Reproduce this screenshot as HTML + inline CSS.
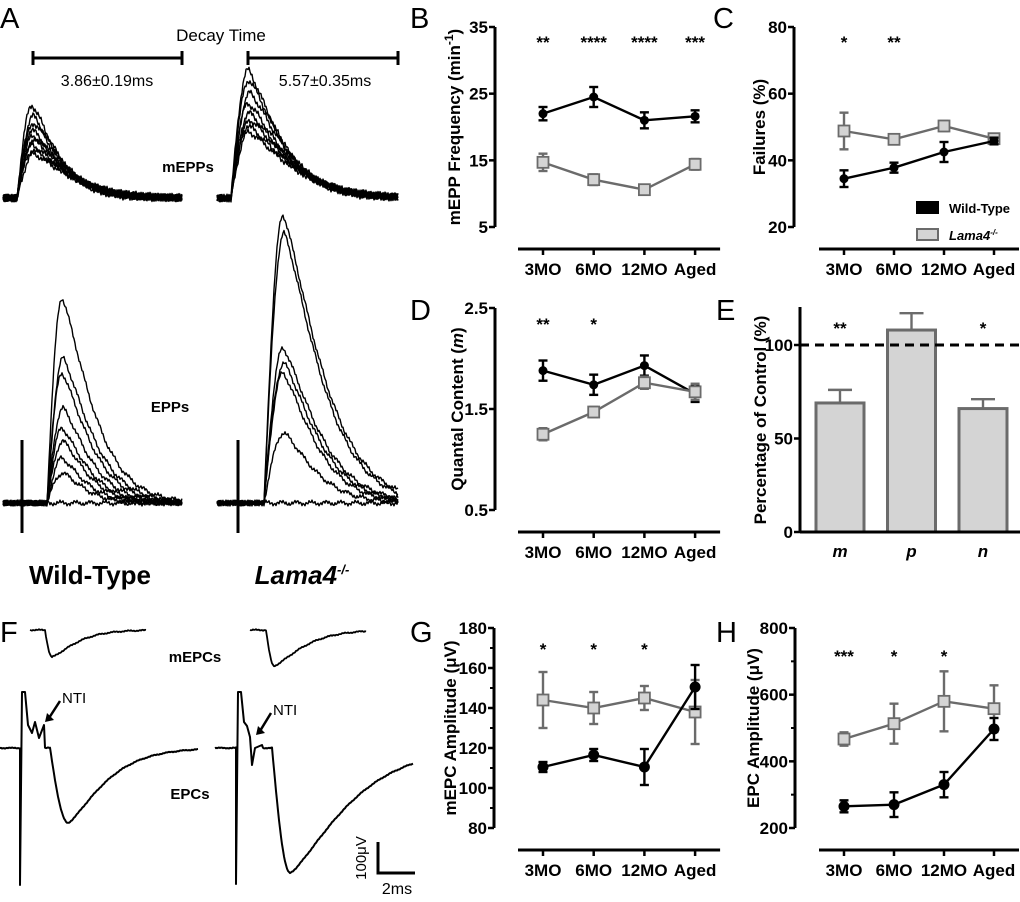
<!DOCTYPE html>
<html><head><meta charset="utf-8">
<style>
html,body{margin:0;padding:0;background:#fff;}
svg{display:block;font-family:"Liberation Sans",sans-serif;}
.tk{font-weight:bold;font-size:17px;}
.pl{font-size:29px;}
</style></head>
<body>
<svg id="fig" width="1020" height="902" viewBox="0 0 1020 902" xmlns="http://www.w3.org/2000/svg">
<g id="left"></g>
<g id="charts"></g>
</svg>
<script>
// ---- chart data ----
const ages = ["3MO","6MO","12MO","Aged"];
const bWT = [22, 24.5, 21, 21.6];
const bWTerr = [1, 1.5, 1.2, 0.9];
const bKO = [14.7, 12.1, 10.6, 14.4];
const bKOerr = [1.3, 0.8, 0.3, 0.8];
const bStars = ["**","****","****","***"];
const cWT = [34.5, 37.8, 42.5, 45.8];
const cWTerr = [2.5, 1.5, 3, 1];
const cKO = [48.8, 46.3, 50.3, 46.5];
const cKOerr = [5.5, 1.3, 1.5, 0.8];
const cStars = ["*","**","",""];
const dWT = [1.88, 1.74, 1.93, 1.65];
const dWTerr = [0.1, 0.1, 0.1, 0.08];
const dKO = [1.25, 1.47, 1.76, 1.67];
const dKOerr = [0.06, 0.05, 0.06, 0.08];
const dStars = ["**","*","",""];
const eCats = ["m","p","n"];
const eVals = [69, 108, 66];
const eErr = [7, 9, 5];
const eStars = ["**","","*"];
const gWT = [110.5, 116.5, 110.5, 150.5];
const gWTerr = [2.5, 3, 9, 11];
const gKO = [144, 140, 145, 138];
const gKOerr = [14, 8, 6, 16];
const gStars = ["*","*","*",""];
const hWT = [265, 270, 330, 497];
const hWTerr = [18, 37, 38, 33];
const hKO = [467, 513, 580, 558];
const hKOerr = [20, 60, 90, 70];
const hStars = ["***","*","*",""];
const bTicks = [5,15,25,35];
const cTicks = [20,40,60,80];
const dTicks = [0.5,1.5,2.5];
const eTicks = [0,50,100];
const gTicks = [80,100,120,140,160,180];
const hTicks = [200,400,600,800];

const NS="http://www.w3.org/2000/svg";
function mk(tag, attrs, parent, text){
  const e=document.createElementNS(NS,tag);
  for(const k in attrs) e.setAttribute(k,attrs[k]);
  if(text!==undefined) e.textContent=text;
  parent.appendChild(e); return e;
}
const charts=document.getElementById('charts');
const left=document.getElementById('left');

function linePanel(o){
  const g=mk('g',{},charts);
  
  
  const y=v=>o.y0+(v-o.vmin)/(o.vmax-o.vmin)*(o.y1-o.y0);
  const x=i=>o.x0+i*o.dx;
  const ya=mk('line',{x1:o.ax,x2:o.ax,y1:y(o.vmax),y2:y(o.vmin),stroke:'#000','stroke-width':3},g);
  
  
  o.ticks.forEach((t,i)=>{
    mk('line',{x1:o.ax-6,x2:o.ax,y1:y(t),y2:y(t),stroke:'#000','stroke-width':2.5},g);
    if(o.minor && i<o.ticks.length-1){const m=(t+o.ticks[i+1])/2;mk('line',{x1:o.ax-4,x2:o.ax,y1:y(m),y2:y(m),stroke:'#000','stroke-width':2},g);}
    const tl=mk('text',{x:o.ax-7,y:y(t)+6,'text-anchor':'end',class:'tk'},g,o.fmt?o.fmt(t):t);
    
    
  });
  const xa=mk('line',{x1:o.x0-25,x2:Math.min(1020,o.x0+3*o.dx+25),y1:o.xay,y2:o.xay,stroke:'#000','stroke-width':3},g);
  
  
  ages.forEach((a,i)=>{
    mk('line',{x1:x(i),x2:x(i),y1:o.xay,y2:o.xay+6,stroke:'#000','stroke-width':2.5},g);
    const xl=mk('text',{x:x(i),y:o.xay+26,'text-anchor':'middle',class:'tk'},g,a);
    
    
    if(o.stars[i]){const s=mk('text',{x:x(i),y:o.stary,'text-anchor':'middle',class:'tk','font-size':'19px'},g,o.stars[i]);
      
      }
  });
  const yt=mk('text',{transform:`translate(${o.ytx},${(y(o.vmax)+y(o.vmin))/2}) rotate(-90)`,'text-anchor':'middle',class:'tk','font-size':'19px'},g);
  
  
  yt.innerHTML=o.ytitle;
  const series=[{v:o.ko,e:o.koe,c:'#6b6b6b',sq:true,n:'lama4-series'},{v:o.wt,e:o.wte,c:'#000',sq:false,n:'wild-type-series'}];
  if(o.wtFirst) series.reverse();
  series.forEach(s=>{
    const sg=mk('g',{},g);
    
    
    mk('polyline',{points:s.v.map((v,i)=>x(i)+','+y(v)).join(' '),fill:'none',stroke:s.c,'stroke-width':2.4},sg);
    s.v.forEach((v,i)=>{
      const hi=y(v+s.e[i]),lo=y(v-s.e[i]);
      mk('line',{x1:x(i),x2:x(i),y1:hi,y2:lo,stroke:s.c,'stroke-width':2.4},sg);
      mk('line',{x1:x(i)-4.5,x2:x(i)+4.5,y1:hi,y2:hi,stroke:s.c,'stroke-width':2.4},sg);
      mk('line',{x1:x(i)-4.5,x2:x(i)+4.5,y1:lo,y2:lo,stroke:s.c,'stroke-width':2.4},sg);
      let p;
      if(s.sq) p=mk('rect',{x:x(i)-5.5,y:y(v)-5.5,width:11,height:11,fill:'#d4d4d4',stroke:s.c,'stroke-width':1.8},sg);
      else p=mk('circle',{cx:x(i),cy:y(v),r:o.dot||4.5,fill:'#000'},sg);
      
      
    });
  });
  return g;
}
linePanel({name:'panel-b-mepp-frequency',ax:495,vmin:5,vmax:35,y0:227,y1:27,x0:543,dx:50.7,xay:249,ticks:bTicks,stars:bStars,stary:48,ytx:460,ytitle:'mEPP Frequency (min<tspan dy="-7" font-size="12">-1</tspan><tspan dy="7">)</tspan>',wt:bWT,wte:bWTerr,ko:bKO,koe:bKOerr});
linePanel({name:'panel-c-failures',ax:794,vmin:20,vmax:80,y0:227,y1:27,x0:844,dx:50,xay:249,ticks:cTicks,stars:cStars,stary:48,ytx:765,ytitle:'Failures (%)',wt:cWT,wte:cWTerr,ko:cKO,koe:cKOerr});
linePanel({name:'panel-d-quantal-content',ax:495,vmin:0.5,vmax:2.5,y0:510,y1:308,x0:543,dx:50.7,xay:532,ticks:dTicks,stars:dStars,stary:330,ytx:463,fmt:t=>t.toFixed(1),ytitle:'Quantal Content (<tspan font-style="italic">m</tspan>)',wt:dWT,wte:dWTerr,ko:dKO,koe:dKOerr,wtFirst:true});
linePanel({name:'panel-g-mepc-amplitude',ax:494,vmin:80,vmax:180,y0:828,y1:628,x0:543,dx:50.7,xay:850,ticks:gTicks,minor:true,stars:gStars,stary:655,ytx:456,ytitle:'mEPC Amplitude (μV)',wt:gWT,wte:gWTerr,ko:gKO,koe:gKOerr,dot:5.5});
linePanel({name:'panel-h-epc-amplitude',ax:795,vmin:200,vmax:800,y0:828,y1:628,x0:844,dx:50,xay:850,ticks:hTicks,minor:true,stars:hStars,stary:662,ytx:759,ytitle:'EPC Amplitude (μV)',wt:hWT,wte:hWTerr,ko:hKO,koe:hKOerr,dot:5.5});

[['Wild-Type','#000','#000',208,false],['Lama4','#6b6b6b','#d4d4d4',235,true]].forEach(l=>{
  const lg=mk('g',{},charts);
  
  
  mk('rect',{x:917,y:l[3]-6,width:21,height:11,fill:l[2],stroke:l[1],'stroke-width':2},lg);
  const t=mk('text',{x:949,y:l[3]+5,'font-size':'13px','font-weight':'bold','font-style':l[4]?'italic':'normal'},lg,l[0]);
  if(l[4]) t.innerHTML='Lama4<tspan dy="-5" font-size="8">-/-</tspan>';
});

(function(){
  const g=mk('g',{},charts);
  
  
  const ax=800, y=v=>532-v*(532-345)/100, xs=i=>840+i*71.5;
  eCats.forEach((c,i)=>{
    const top=y(eVals[i]+eErr[i]);
    mk('line',{x1:xs(i),x2:xs(i),y1:top,y2:y(eVals[i]),stroke:'#6b6b6b','stroke-width':2.4},g);
    mk('line',{x1:xs(i)-12,x2:xs(i)+12,y1:top,y2:top,stroke:'#6b6b6b','stroke-width':2.4},g);
    const b=mk('rect',{x:xs(i)-24,y:y(eVals[i]),width:48,height:532-y(eVals[i]),fill:'#d4d4d4',stroke:'#6b6b6b','stroke-width':3},g);
    
    
    const xl=mk('text',{x:xs(i),y:557,'text-anchor':'middle',class:'tk','font-style':'italic'},g,c);
    
    
    if(eStars[i]) mk('text',{x:xs(i),y:334,'text-anchor':'middle',class:'tk','font-size':'19px'},g,eStars[i]);
  });
  const d=mk('line',{x1:ax,x2:1020,y1:y(100),y2:y(100),stroke:'#000','stroke-width':3,'stroke-dasharray':'9,6'},g);
  
  
  mk('line',{x1:ax,x2:ax,y1:307,y2:532,stroke:'#000','stroke-width':3},g);
  mk('line',{x1:ax,x2:1020,y1:532,y2:532,stroke:'#000','stroke-width':3},g);
  eTicks.forEach(t=>{
    mk('line',{x1:ax-6,x2:ax,y1:y(t),y2:y(t),stroke:'#000','stroke-width':2.5},g);
    mk('text',{x:ax-7,y:y(t)+6,'text-anchor':'end',class:'tk'},g,t);
  });
  const yt=mk('text',{transform:'translate(766,420) rotate(-90)','text-anchor':'middle',class:'tk','font-size':'19px'},g,'Percentage of Control (%)');
  
  
})();

[['A',0,28],['B',410,28],['C',713,28],['D',410,320],['E',716,320],['F',0,642],['G',410,642],['H',716,642]].forEach(p=>{
  const t=mk('text',{x:p[1],y:p[2],class:'pl'},charts,p[0]);
  
  
});

// ---- illustrative traces ----
function noise(i,k){return Math.sin(i*12.9898+k*78.233)*0.5+Math.sin(i*4.1+k*2.3)*0.5;}
function wave(x0,x1,base,onset,peakX,amp,tau,k,nz,sign){
  let d='';
  for(let x=x0;x<=x1;x+=1){
    let v=0;
    if(x>onset){
      if(x<=peakX){const f=(x-onset)/(peakX-onset); v=amp*Math.sin(f*Math.PI/2);}
      else {const t=x-peakX; v=amp*Math.exp(-Math.pow(t/tau,1.3));}
    }
    const yy=base-sign*v+nz*noise(x,k);
    d+=(x===x0?'M':'L')+x+','+yy.toFixed(1);
  }
  return d;
}
function trace(d,name,w){
  const p=mk('path',{d:d,fill:'none',stroke:'#000','stroke-width':w||1.4,'stroke-linejoin':'round'},left);
  
  
}
[93,82,75,68,62,58,53,48,44].forEach((a,k)=>trace(wave(3,182,198,17,32+(k%3),a,32+k*2,k,4,1),'wt-mepp-trace'));
[128,118,105,95,85,78,72,66].forEach((a,k)=>trace(wave(217,398,198,231,248+(k%3),a,40+k*2,k+20,4,1),'lama4-mepp-trace'));
[205,145,130,95,75,62,45,30,0].forEach((a,k)=>trace(wave(3,182,503,47,62+(k%2),a,38-k*1.5,k+40,3,1),'wt-epp-trace'));
[288,270,155,140,130,70,0].forEach((a,k)=>trace(wave(217,398,503,264,283+(k%2),a,48-k*2,k+60,3,1),'lama4-epp-trace'));
trace('M22,440 L22,533','wt-stimulus-artifact',3);
trace('M238,440 L238,533','lama4-stimulus-artifact',3);
[[33,182],[248,398]].forEach(b=>{
  const g=mk('g',{},left);
  
  
  mk('line',{x1:b[0],x2:b[1],y1:58,y2:58,stroke:'#000','stroke-width':3},g);
  mk('line',{x1:b[0],x2:b[0],y1:51,y2:65,stroke:'#000','stroke-width':3},g);
  mk('line',{x1:b[1],x2:b[1],y1:51,y2:65,stroke:'#000','stroke-width':3},g);
});
[['Decay Time',221,41,17],['3.86±0.19ms',107,86,16],['5.57±0.35ms',325,86,16]].forEach(t=>{
  const e=mk('text',{x:t[1],y:t[2],'text-anchor':'middle','font-size':t[3]+'px'},left,t[0]);
  
  
});
[['mEPPs',188,172],['EPPs',170,412],['mEPCs',195,662],['EPCs',190,799]].forEach(t=>{
  const e=mk('text',{x:t[1],y:t[2],'text-anchor':'middle','font-size':'15px','font-weight':'bold'},left,t[0]);
  
  
});
const wtT=mk('text',{x:90,y:584,'text-anchor':'middle','font-size':'26px','font-weight':'bold'},left,'Wild-Type');


const koT=mk('text',{x:302,y:584,'text-anchor':'middle','font-size':'26px','font-weight':'bold','font-style':'italic'},left);


koT.innerHTML='Lama4<tspan dy="-10" font-size="13">-/-</tspan>';
trace(wave(30,146,630,45,52,27,30,80,0.8,-1),'wt-mepc-trace',1.8);
trace(wave(250,366,630,266,274,36,36,81,0.8,-1),'lama4-mepc-trace',1.8);
trace(wave(0,20,748,200,201,0,1,82,0.6,-1)+' L20,885 L22,692 L25,692 L28,725 L32,733 L35,722 L39,738 L44,725 '+wave(45,198,748,50,68,75,45,83,0.6,-1).replace('M','L'),'wt-epc-trace',2);
trace(wave(215,236,748,500,501,0,1,84,0.6,-1)+' L236,884 L238,692 L241,692 L244,722 L247,726 L250,737 L252,765 L255,748 L262,745 '+wave(263,413,748,272,290,125,70,85,0.6,-1).replace('M','L'),'lama4-epc-trace',2);
[['NTI',62,703,45,722],['NTI',273,715,256,735]].forEach(a=>{
  const g=mk('g',{},left);
  
  
  mk('text',{x:a[1],y:a[2],'font-size':'15px'},g,a[0]);
  mk('line',{x1:a[1]-2,x2:a[3]+4,y1:a[2]-2,y2:a[4]-4,stroke:'#000','stroke-width':2.5},g);
  mk('path',{d:`M${a[3]},${a[4]} l2,-9 l7,7 z`,fill:'#000'},g);
});
const sb=mk('g',{},left);


mk('path',{d:'M378,842 L378,873 L415,873',fill:'none',stroke:'#000','stroke-width':3},sb);
mk('text',{transform:'translate(366,858) rotate(-90)','text-anchor':'middle','font-size':'15px'},sb,'100μV');
mk('text',{x:397,y:894,'text-anchor':'middle','font-size':'16px'},sb,'2ms');
</script>
</body></html>
